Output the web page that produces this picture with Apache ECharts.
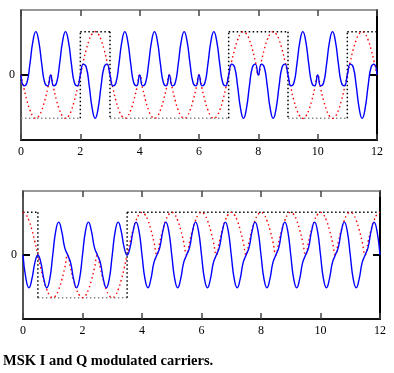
<!DOCTYPE html>
<html>
<head>
<meta charset="utf-8">
<script src="https://cdn.jsdelivr.net/npm/echarts@6/dist/echarts.min.js"></script>
<style>
html,body{margin:0;padding:0;background:#fff;}
#chart{width:394px;height:373px;}
</style>
</head>
<body>
<div id="chart"></div>
<script>
// time samples (shared by both panels)
const tSamples = [
 0,0.1,0.2,0.3,0.4,0.5,0.6,0.7,0.8,0.9,
 1,1.1,1.2,1.3,1.4,1.5,1.6,1.7,1.8,1.9,
 2,2.1,2.2,2.3,2.4,2.5,2.6,2.7,2.8,2.9,
 3,3.1,3.2,3.3,3.4,3.5,3.6,3.7,3.8,3.9,
 4,4.1,4.2,4.3,4.4,4.5,4.6,4.7,4.8,4.9,
 5,5.1,5.2,5.3,5.4,5.5,5.6,5.7,5.8,5.9,
 6,6.1,6.2,6.3,6.4,6.5,6.6,6.7,6.8,6.9,
 7,7.1,7.2,7.3,7.4,7.5,7.6,7.7,7.8,7.9,
 8,8.1,8.2,8.3,8.4,8.5,8.6,8.7,8.8,8.9,
 9,9.1,9.2,9.3,9.4,9.5,9.6,9.7,9.8,9.9,
 10,10.1,10.2,10.3,10.4,10.5,10.6,10.7,10.8,10.9,
 11,11.1,11.2,11.3,11.4,11.5,11.6,11.7,11.8,11.9,
 12];

// I channel: data bits (square wave)
const bitsI_t = [0,2,2,3,3,7,7,9,9,11,11,12];
const bitsI_v = [-1,-1,1,1,-1,-1,1,1,-1,-1,1,1];

// I channel: half-sine weighting (red dotted)
const envI = [
 0,-.31,-.59,-.81,-.95,-1,-.95,-.81,-.59,-.31,
 0,-.31,-.59,-.81,-.95,-1,-.95,-.81,-.59,-.31,
 0,.31,.59,.81,.95,1,.95,.81,.59,.31,
 0,-.31,-.59,-.81,-.95,-1,-.95,-.81,-.59,-.31,
 0,-.31,-.59,-.81,-.95,-1,-.95,-.81,-.59,-.31,
 0,-.31,-.59,-.81,-.95,-1,-.95,-.81,-.59,-.31,
 0,-.31,-.59,-.81,-.95,-1,-.95,-.81,-.59,-.31,
 0,.31,.59,.81,.95,1,.95,.81,.59,.31,
 0,.31,.59,.81,.95,1,.95,.81,.59,.31,
 0,-.31,-.59,-.81,-.95,-1,-.95,-.81,-.59,-.31,
 0,-.31,-.59,-.81,-.95,-1,-.95,-.81,-.59,-.31,
 0,.31,.59,.81,.95,1,.95,.81,.59,.31,
 0];

// I channel: modulated carrier (blue)
const carrierI = [
 0,-.25,-.18,.25,.77,1,.77,.25,-.18,-.25,
 0,-.25,-.18,.25,.77,1,.77,.25,-.18,-.25,
 0,.25,.18,-.25,-.77,-1,-.77,-.25,.18,.25,
 0,-.25,-.18,.25,.77,1,.77,.25,-.18,-.25,
 0,-.25,-.18,.25,.77,1,.77,.25,-.18,-.25,
 0,-.25,-.18,.25,.77,1,.77,.25,-.18,-.25,
 0,-.25,-.18,.25,.77,1,.77,.25,-.18,-.25,
 0,.25,.18,-.25,-.77,-1,-.77,-.25,.18,.25,
 0,.25,.18,-.25,-.77,-1,-.77,-.25,.18,.25,
 0,-.25,-.18,.25,.77,1,.77,.25,-.18,-.25,
 0,-.25,-.18,.25,.77,1,.77,.25,-.18,-.25,
 0,.25,.18,-.25,-.77,-1,-.77,-.25,.18,.25,
 0];

// Q channel: data bits (square wave)
const bitsQ_t = [0,0.5,0.5,3.5,3.5,12];
const bitsQ_v = [1,1,-1,-1,1,1];

// Q channel: half-cosine weighting (red dotted)
const envQ = [
 1,.95,.81,.59,.31,0,-.31,-.59,-.81,-.95,
 -1,-.95,-.81,-.59,-.31,0,-.31,-.59,-.81,-.95,
 -1,-.95,-.81,-.59,-.31,0,-.31,-.59,-.81,-.95,
 -1,-.95,-.81,-.59,-.31,0,.31,.59,.81,.95,
 1,.95,.81,.59,.31,0,.31,.59,.81,.95,
 1,.95,.81,.59,.31,0,.31,.59,.81,.95,
 1,.95,.81,.59,.31,0,.31,.59,.81,.95,
 1,.95,.81,.59,.31,0,.31,.59,.81,.95,
 1,.95,.81,.59,.31,0,.31,.59,.81,.95,
 1,.95,.81,.59,.31,0,.31,.59,.81,.95,
 1,.95,.81,.59,.31,0,.31,.59,.81,.95,
 1,.95,.81,.59,.31,0,.31,.59,.81,.95,
 1];

// Q channel: modulated carrier (blue)
const carrierQ = [
 0,-.56,-.77,-.56,-.18,0,-.18,-.56,-.77,-.56,
 0,.56,.77,.56,.18,0,-.18,-.56,-.77,-.56,
 0,.56,.77,.56,.18,0,-.18,-.56,-.77,-.56,
 0,.56,.77,.56,.18,0,.18,.56,.77,.56,
 0,-.56,-.77,-.56,-.18,0,.18,.56,.77,.56,
 0,-.56,-.77,-.56,-.18,0,.18,.56,.77,.56,
 0,-.56,-.77,-.56,-.18,0,.18,.56,.77,.56,
 0,-.56,-.77,-.56,-.18,0,.18,.56,.77,.56,
 0,-.56,-.77,-.56,-.18,0,.18,.56,.77,.56,
 0,-.56,-.77,-.56,-.18,0,.18,.56,.77,.56,
 0,-.56,-.77,-.56,-.18,0,.18,.56,.77,.56,
 0,-.56,-.77,-.56,-.18,0,.18,.56,.77,.56,
 0];

const xTicks = [0,2,4,6,8,10,12];
const yTickLabels = [0];
const caption = 'MSK I and Q modulated carriers.';

const pair = (xs, ys) => xs.map((x, i) => [x, ys[i]]);

// split the square wave into low-level segments (grey) and the rest (black)
function splitBits(xs, ys) {
  const low = [], rest = [];
  for (let i = 0; i < xs.length - 1; i++) {
    const a = [xs[i], ys[i]], b = [xs[i + 1], ys[i + 1]];
    const target = (ys[i] < 0 && ys[i + 1] < 0) ? low : rest;
    target.push(a, b, [xs[i + 1], null]);
  }
  return { low, rest };
}

const FONT = 'Liberation Serif';
function xAxes(gi) {
  return [
    { gridIndex: gi, type: 'value', position: 'bottom', min: 0, max: 12, interval: 2,
      axisLine: { show: true, onZero: false, lineStyle: { color: '#111', width: 2 } },
      axisTick: { show: true, inside: true, length: 6, lineStyle: { color: '#444', width: 1.5 } },
      axisLabel: { show: true, margin: 6, color: '#000', fontFamily: FONT, fontSize: 12 },
      splitLine: { show: false } },
    { gridIndex: gi, type: 'value', position: 'top', min: 0, max: 12, interval: 2,
      axisLine: { show: true, onZero: false, lineStyle: { color: '#777', width: 1.5 } },
      axisTick: { show: true, inside: true, length: 6, lineStyle: { color: '#444', width: 1.5 } },
      axisLabel: { show: false },
      splitLine: { show: false } }
  ];
}
function yAxes(gi) {
  return [
    { gridIndex: gi, type: 'value', position: 'left', min: -1.5, max: 1.5, interval: 1.5,
      axisLine: { show: true, onZero: false, lineStyle: { color: '#555', width: 2 } },
      axisTick: { show: true, inside: true, length: 7, customValues: yTickLabels, lineStyle: { color: '#000', width: 2 } },
      axisLabel: { show: true, margin: 6, customValues: yTickLabels, color: '#000', fontFamily: FONT, fontSize: 12 },
      splitLine: { show: false } },
    { gridIndex: gi, type: 'value', position: 'right', min: -1.5, max: 1.5, interval: 1.5,
      axisLine: { show: true, onZero: false, lineStyle: { color: '#000', width: 2 } },
      axisTick: { show: true, inside: true, length: 7, customValues: yTickLabels, lineStyle: { color: '#000', width: 2 } },
      axisLabel: { show: false },
      splitLine: { show: false } }
  ];
}

function panelSeries(gi, bt, bv, env, car) {
  const xi = gi * 2, yi = gi * 2;
  const sq = splitBits(bt, bv);
  return [
    { type: 'line', xAxisIndex: xi, yAxisIndex: yi, data: sq.low, showSymbol: false, connectNulls: false,
      lineStyle: { color: '#8a8a8a', width: 1.5, type: [1.5, 2.5] }, silent: true },
    { type: 'line', xAxisIndex: xi, yAxisIndex: yi, data: sq.rest, showSymbol: false, connectNulls: false,
      lineStyle: { color: '#000', width: 1.5, type: [1.5, 2.5] }, silent: true },
    { type: 'line', xAxisIndex: xi, yAxisIndex: yi, data: pair(tSamples, env), showSymbol: false, smooth: true,
      lineStyle: { color: '#ff0000', width: 1.4, type: [1.5, 3] }, silent: true },
    { type: 'line', xAxisIndex: xi, yAxisIndex: yi, data: pair(tSamples, car), showSymbol: false, smooth: true,
      lineStyle: { color: '#0000ff', width: 1.4 }, silent: true }
  ];
}

const chart = echarts.init(document.getElementById('chart'), null, { renderer: 'canvas' });
chart.setOption({
  animation: false,
  backgroundColor: '#fff',
  grid: [
    { left: 21, top: 10, width: 356, height: 130 },
    { left: 23, top: 191, width: 357, height: 128 }
  ],
  xAxis: [...xAxes(0), ...xAxes(1)],
  yAxis: [...yAxes(0), ...yAxes(1)],
  series: [
    ...panelSeries(0, bitsI_t, bitsI_v, envI, carrierI),
    ...panelSeries(1, bitsQ_t, bitsQ_v, envQ, carrierQ)
  ],
  graphic: [
    { type: 'text', left: 3, top: 354,
      style: { text: caption, fill: '#000', font: 'bold 14.5px "Liberation Serif"' } }
  ]
});
</script>
</body>
</html>
